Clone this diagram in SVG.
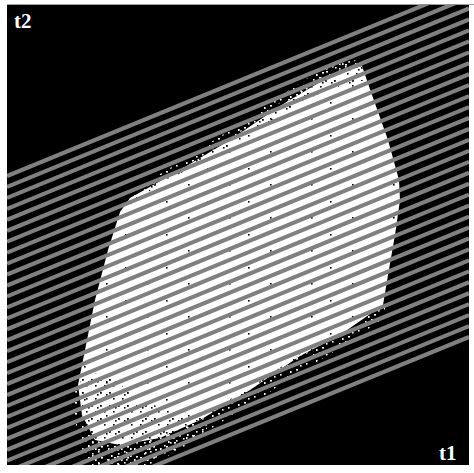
<svg xmlns="http://www.w3.org/2000/svg" width="474" height="473" viewBox="0 0 474 473">
<defs>
<style>
.lbl{font-family:"Liberation Serif","DejaVu Serif",serif;font-weight:bold;font-size:21px;fill:#fff}
.ln{stroke:#808080;stroke-width:4.1;fill:none}
</style>
<clipPath id="box"><rect x="7" y="4.5" width="462" height="460.5"/></clipPath>
<pattern id="wd" width="13" height="11" patternUnits="userSpaceOnUse">
<rect x="1" y="2" width="1.6" height="1.6" fill="#fff"/><rect x="7" y="0" width="1.6" height="1.6" fill="#fff"/><rect x="10" y="6" width="2" height="1.6" fill="#fff"/><rect x="4" y="8" width="1.6" height="2" fill="#fff"/>
</pattern>
<pattern id="wd2" width="19" height="7" patternUnits="userSpaceOnUse">
<rect x="3" y="1" width="2" height="1.6" fill="#fff"/><rect x="12" y="4" width="1.6" height="1.6" fill="#fff"/><rect x="16" y="0" width="1.6" height="2" fill="#fff"/>
</pattern>
<pattern id="bd" width="41" height="33" patternUnits="userSpaceOnUse">
<rect x="2" y="3" width="1.6" height="1.6" fill="#000"/><rect x="24" y="19" width="1.6" height="1.6" fill="#000"/>
</pattern>
<pattern id="bd2" width="9" height="13" patternUnits="userSpaceOnUse">
<rect x="1" y="2" width="1.8" height="1.8" fill="#000"/><rect x="5" y="8" width="1.6" height="1.6" fill="#000"/><rect x="7" y="4" width="1.6" height="1.6" fill="#000"/>
</pattern>
</defs>
<rect x="0" y="0" width="474" height="473" fill="#fff"/>
<g id="field">
<rect x="7" y="4" width="462" height="461" fill="#000"/>
<line x1="7" y1="4.5" x2="474" y2="4.5" stroke="#a0a0a0" stroke-width="1"/>
</g>
<g id="region">
<polygon fill="#fff" points="362,66 372,95 388,140 399,180 400,200 395,235 388,275 383,305 340,335 300,356 250,390 200,420 160,438 120,445 95,440 82,415 78,385 85,350 95,300 108,250 120,212 130,198 180,170 230,140 280,106 320,82 345,71"/>
<polygon fill="url(#bd)" points="362,66 372,95 388,140 399,180 400,200 395,235 388,275 383,305 340,335 300,356 250,390 200,420 160,438 120,445 95,440 82,415 78,385 85,350 95,300 108,250 120,212 130,198 180,170 230,140 280,106 320,82 345,71"/>
<polygon fill="url(#bd2)" points="130,198 180,170 230,140 280,106 320,82 345,71 362,66 366,80 340,86 300,102 260,128 210,158 160,184 128,206"/>
<polygon fill="url(#bd2)" points="80,372 110,375 140,402 200,416 250,388 300,354 340,333 383,305 380,316 340,344 300,370 250,403 200,433 150,447 100,447 82,420"/>
<polygon fill="url(#wd)" points="125,200 140,186 180,162 230,130 280,96 320,70 360,58 362,66 345,71 320,82 280,106 230,140 180,170 130,198"/>
<polygon fill="url(#wd2)" points="200,158 250,124 300,88 330,66 356,60 345,71 320,82 280,106 230,140"/>
<polygon fill="url(#wd)" points="76,380 82,415 95,440 120,445 160,438 200,420 250,390 300,356 340,335 383,305 386,300 384,318 340,348 300,372 250,405 205,432 170,452 150,465 90,465 78,440 74,410"/>
<polygon fill="url(#wd2)" points="80,430 120,445 160,438 200,420 210,432 170,455 140,465 95,465"/>
</g>
<g id="connectors" clip-path="url(#box)">
<path class="ln" d="M7,176L469,-13.4M7,186.95L469,-2.47M7,197.9L469,8.5M7,208.85L469,19.45M7,219.8L469,30.4M7,230.75L469,41.35M7,241.7L469,52.3M7,252.65L469,63.25M7,263.6L469,74.2M7,274.55L469,85.15M7,285.5L469,96.1M7,296.45L469,107.05M7,307.4L469,118M7,318.35L469,128.95M7,329.3L469,139.9M7,340.25L469,150.85M7,351.2L469,161.8M7,362.15L469,172.75M7,373.1L469,183.7M7,384.05L469,194.65M7,395L469,205.6M7,405.95L469,216.55M7,416.9L469,227.5M7,427.85L469,238.45M7,438.8L469,249.4M7,449.75L469,260.35M7,460.7L469,271.3M7,471.65L469,282.25M7,482.6L469,293.2M7,493.55L469,304.15M7,504.5L469,315.1M7,515.45L469,326.05M7,526.4L469,337"/>
</g>
<g id="label-t2"><text class="lbl" x="14" y="28">t2</text></g>
<g id="label-t1"><text class="lbl" x="439" y="460">t1</text></g>
</svg>
